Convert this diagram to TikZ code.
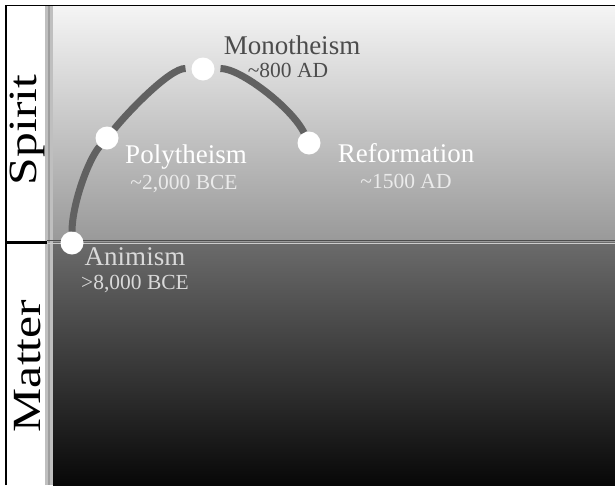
\documentclass[tikz,border=0pt]{standalone}
\usepackage{fontspec}
\setmainfont{Liberation Serif}
\usepackage{graphicx}
\usepackage{xcolor}
\usepackage{tikz}
\usetikzlibrary{positioning}

\begin{document}
\begin{tikzpicture}[x=1pt,y=-1pt,
  dot/.style={circle,fill=white,minimum size=23pt,inner sep=0pt,outer sep=0pt},
  ttl/.style={anchor=base,inner sep=0pt,font=\fontsize{27}{27}\selectfont},
  dt/.style={anchor=base,inner sep=0pt,font=\fontsize{21.5}{21.5}\selectfont},
  side/.style={rotate=90,font=\fontsize{40}{40}\selectfont},
  ln/.style={line width=7pt,draw=black!62}]
\useasboundingbox (0,0) rectangle (615,485);
\fill[white] (0,0) rectangle (615,485);
% backdrop
\shade[top color=black!4,bottom color=black!40] (53,6) rectangle (615,241);
\shade[top color=black!58,middle color=black!84,bottom color=black!97] (53,242) rectangle (615,485);
\fill[black!25] (45,6) rectangle (53,485);
\draw[black!38,line width=2pt] (49,6) -- (49,485);
\draw[black!70,line width=1.5pt] (47,240.5) -- (615,240.5);
\draw[white!80!black,line width=1.5pt] (47,243.5) -- (615,243.5);
\draw[line width=3pt] (6,242) -- (47,242);
\draw[line width=1.5pt] (6,485) -- (6,5.5) -- (615,5.5);
% side labels
\node[side] (spi) at (28,130) {\scalebox{1.24}[1]{Spirit}};
\node[side] (mat) at (28,366) {\scalebox{1.24}[1]{Matter}};
% stages
\node[dot] (ani) at (72,243) {};
\node[dot] (poly) at (107,138) {};
\node[dot,outer sep=6pt] (mono) at (203,69) {};
\node[dot] (refo) at (309,143) {};
\draw[ln] (ani) .. controls (72,205) and (88,160) .. (poly)
  .. controls (128,112) and (170,68) .. (mono)
  .. controls (240,68) and (292,108) .. (refo);
% labels
\node[ttl,text=black!70] (monoT) at (292,54) {Monotheism};
\node[dt,text=black!70] (monoD) at (288,77) {\textasciitilde800 AD};
\node[ttl,text=white] (polyT) at (186,163) {Polytheism};
\node[dt,text=white!92!black] (polyD) at (184,189) {\textasciitilde2,000 BCE};
\node[ttl,text=white] (refoT) at (406,162) {Reformation};
\node[dt,text=white!92!black] (refoD) at (406,188) {\textasciitilde1500 AD};
\node[ttl,text=black!15] (aniT) at (135,265) {Animism};
\node[dt,text=black!15] (aniD) at (135,289) {>8,000 BCE};
\end{tikzpicture}
\end{document}
